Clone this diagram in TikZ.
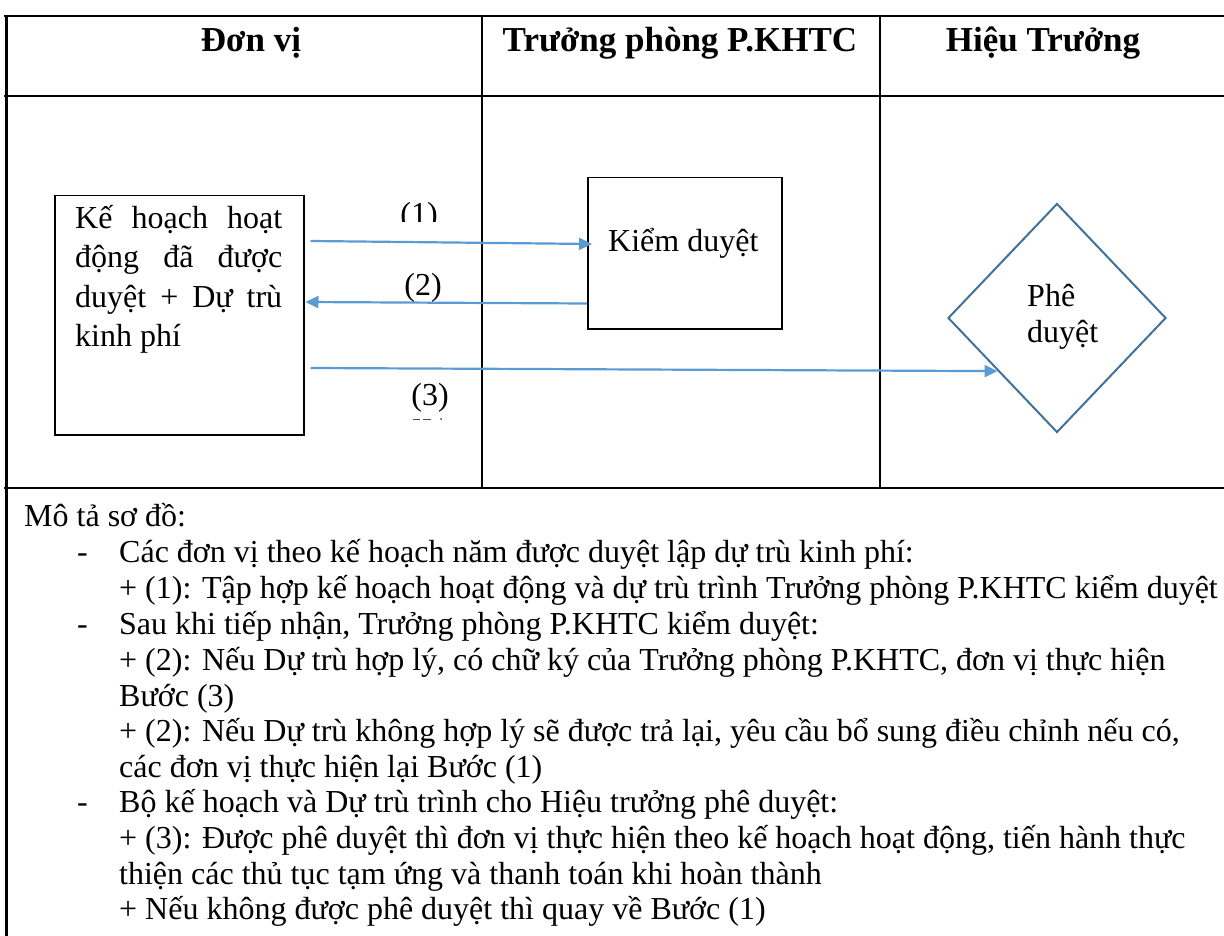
\documentclass[tikz,border=0pt]{standalone}
\usepackage{fontspec}
\setmainfont{Liberation Serif}
\usetikzlibrary{shapes.geometric,arrows.meta,calc}
\definecolor{arrowblue}{HTML}{5B9BD5}
\definecolor{diamblue}{HTML}{41719C}
\begin{document}
\begin{tikzpicture}[x=1pt,y=-1pt,
  hline/.style={line width=2.6pt},
  vline/.style={line width=1.8pt},
  box/.style={draw=black, line width=1.5pt, inner sep=0pt, anchor=north west},
  decision/.style={diamond, draw=diamblue, line width=2pt, inner sep=0pt, minimum width=218pt, minimum height=229pt},
  arr/.style={draw=arrowblue, line width=2.2pt, -{Triangle[length=13pt,width=12pt]}},
  head/.style={anchor=base, font=\fontsize{35}{40}\selectfont\bfseries, inner sep=0pt},
  txt/.style={anchor=base west, font=\fontsize{32}{38}\selectfont, inner sep=0pt},
  lbl/.style={anchor=base, font=\fontsize{32}{38}\selectfont, inner sep=0pt}]
\useasboundingbox (0,0) rectangle (1224,936);
% table grid
\draw[hline] (4,16) -- (1224,16);
\draw[hline] (4,96) -- (1224,96);
\draw[hline] (4,488) -- (1224,488);
\draw[line width=3pt] (6,15) -- (6,936);
\draw[vline] (482,16) -- (482,488);
\draw[vline] (880,16) -- (880,488);
% headers
\node[head] (h1) at (251,52) {Đơn vị};
\node[head] (h2) at (680,52) {Trưởng phòng P.KHTC};
\node[head] (h3) at (1043,52) {Hiệu Trưởng};
% shapes
\node[box, minimum width=249pt, minimum height=239pt] (a) at (54,195) {};
\node[box, minimum width=194pt, minimum height=151pt] (k) at (587,177) {};
\node[decision] (d) at (1057,318) {};
% texts in shapes
\node[txt] (a1) at (75,229) {\makebox[207pt][s]{Kế hoạch hoạt}};
\node[txt] (a2) at (75,268) {\makebox[207pt][s]{động đã được}};
\node[txt] (a3) at (75,307) {\makebox[207pt][s]{duyệt + Dự trù}};
\node[txt] (a4) at (75,346) {kinh phí};
\node[txt] (k1) at (608,252) {Kiểm duyệt};
\node[txt] (d1) at (1027,306) {Phê};
\node[txt] (d2) at (1027,342) {duyệt};
% connectors
\draw[arr] ($(a.north east)+(6,46)$) -- ($(k.north west)+(5,67)$);
\draw[arr] ($(k.south west)+(0,-26)$) -- ($(a.north east)+(1,107)$);
\draw[arr] ($(a.north east)+(6,173)$) -- ($(d.west)!0.46!(d.south)$);
% connector labels
\begin{scope}
\clip (380,190) rectangle (460,222);
\node[lbl] (l1) at (419,225) {(1)};
\end{scope}
\node[lbl] (l2) at (423,295) {(2)};
\node[lbl] (l3) at (430,405) {(3)};
\draw[line width=0.8pt, black!70] (413,419) -- (420,419) (423,419) -- (431,419);
\fill[black!80] (441,419) circle (1pt);
% description
\node[txt] (t0) at (24,526) {Mô tả sơ đồ:};
\node[txt] (m1) at (77,562.5) {-};
\node[txt] (t1) at (119,562.5) {Các đơn vị theo kế hoạch năm được duyệt lập dự trù kinh phí:};
\node[txt] (t2) at (119,598.5) {+ (1): Tập hợp kế hoạch hoạt động và dự trù trình Trưởng phòng P.KHTC kiểm duyệt};
\node[txt] (m2) at (77,634.5) {-};
\node[txt] (t3) at (119,634.5) {Sau khi tiếp nhận, Trưởng phòng P.KHTC kiểm duyệt:};
\node[txt] (t4) at (119,670.4) {+ (2): Nếu Dự trù hợp lý, có chữ ký của Trưởng phòng P.KHTC, đơn vị thực hiện};
\node[txt] (t5) at (119,706) {Bước (3)};
\node[txt] (t6) at (119,741.6) {+ (2): Nếu Dự trù không hợp lý sẽ được trả lại, yêu cầu bổ sung điều chỉnh nếu có,};
\node[txt] (t7) at (119,777.2) {các đơn vị thực hiện lại Bước (1)};
\node[txt] (m3) at (77,812.8) {-};
\node[txt] (t8) at (119,812.8) {Bộ kế hoạch và Dự trù trình cho Hiệu trưởng phê duyệt:};
\node[txt] (t9) at (119,848.4) {+ (3): Được phê duyệt thì đơn vị thực hiện theo kế hoạch hoạt động, tiến hành thực};
\node[txt] (t10) at (119,884) {thiện các thủ tục tạm ứng và thanh toán khi hoàn thành};
\node[txt] (t11) at (119,919.6) {+ Nếu không được phê duyệt thì quay về Bước (1)};
\end{tikzpicture}
\end{document}
